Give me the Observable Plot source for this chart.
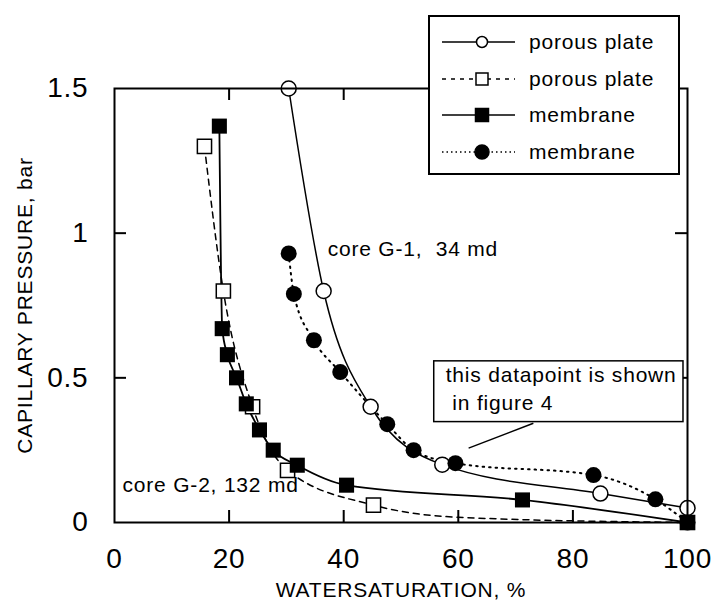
<!DOCTYPE html>
<html><head><meta charset="utf-8">
<script src="https://cdn.jsdelivr.net/npm/d3@7"></script>
<script src="https://cdn.jsdelivr.net/npm/@observablehq/plot@0.6"></script>
<style>
body{margin:0;background:#fff}
#wrap{position:relative;width:720px;height:604px;overflow:hidden}
#legend{position:absolute;left:428px;top:15px}
svg text{letter-spacing:0.8px}
</style>
</head><body><div id="wrap"></div>
<script>
// ---- data ----
const xTicks = [0, 20, 40, 60, 80, 100];
const xTickLabels = ["0", "20", "40", "60", "80", "100"];
const yTicks = [0, 0.5, 1, 1.5];
const yTickLabels = ["0", "0.5", "1", "1.5"];
const xInnerTicks = [20, 40, 60, 80];
const yInnerTicks = [0.5, 1];
const xTitle = "WATERSATURATION, %";
const yTitle = "CAPILLARY PRESSURE, bar";

// core G-1, porous plate (open circles, solid)
const g1PorousX = [30.4, 36.5, 44.7, 57.2, 84.8, 100];
const g1PorousY = [1.5, 0.8, 0.4, 0.2, 0.1, 0.05];
// core G-1, membrane (filled circles, dotted)
const g1MembraneX = [30.4, 31.3, 34.8, 39.4, 47.6, 52.2, 59.5, 83.6, 94.4, 100];
const g1MembraneY = [0.93, 0.79, 0.63, 0.52, 0.34, 0.25, 0.205, 0.164, 0.08, 0];
// core G-2, porous plate (open squares, dashed)
const g2PorousX = [15.7, 19.0, 24.1, 30.2, 45.2, 100];
const g2PorousY = [1.3, 0.8, 0.4, 0.18, 0.06, 0];
// dashed curve path (includes an unmarked bend)
const g2PorousCurveX = [15.7, 19.0, 24.1, 30.2, 45.2, 60, 100];
const g2PorousCurveY = [1.3, 0.8, 0.4, 0.18, 0.06, 0.018, 0];
// core G-2, membrane (filled squares, solid)
const g2MembraneX = [18.3, 18.8, 19.7, 21.3, 23.0, 25.3, 27.7, 31.9, 40.5, 71.2, 100];
const g2MembraneY = [1.37, 0.67, 0.58, 0.50, 0.41, 0.32, 0.25, 0.198, 0.129, 0.078, 0];

const legendLabels = ["porous plate", "porous plate", "membrane", "membrane"];

const noteLabels = [
  {x: 37.2, y: 0.922, text: "core G-1,  34 md"},
  {x: 1.4, y: 0.105, text: "core G-2, 132 md"}
];
const noteBox = [{x1: 55.8, x2: 99.3, y1: 0.347, y2: 0.557}];
const noteBoxText = [{x: 57.8, y: 0.388, text: "this datapoint is shown\n\u00a0in figure 4"}];
const noteLeader = [{x1: 61.8, y1: 0.257, x2: 73.1, y2: 0.343}];

// ---- build tables ----
const rows = (xs, ys) => xs.map((x, i) => ({x, y: ys[i]}));
const g1P = rows(g1PorousX, g1PorousY);
const g1M = rows(g1MembraneX, g1MembraneY);
const g2P = rows(g2PorousX, g2PorousY);
const g2PC = rows(g2PorousCurveX, g2PorousCurveY);
const g2M = rows(g2MembraneX, g2MembraneY);

const FONT = "'Liberation Sans', Arial, Helvetica, sans-serif";
const curve = "monotone-x";
const W = 720, H = 604, ML = 114, MR = 33, MT = 88, MB = 82;
const XD = [0, 100], YD = [0, 1.5];
const FW = W - ML - MR, FH = H - MT - MB, TK = 12;
// tick length (12 px) expressed in each scale's units
const tkX = TK * (XD[1] - XD[0]) / FW;
const tkY = TK * (YD[1] - YD[0]) / FH;

const chart = Plot.plot({
  width: W, height: H,
  marginLeft: ML, marginRight: MR, marginTop: MT, marginBottom: MB,
  style: {fontFamily: FONT, color: "#000", background: "#fff", overflow: "visible"},
  x: {domain: XD, axis: null},
  y: {domain: YD, axis: null},
  marks: [
    // curves
    Plot.line(g2PC, {x: "x", y: "y", curve, stroke: "#000", strokeWidth: 1.5, strokeDasharray: "6,5"}),
    Plot.line(g2M, {x: "x", y: "y", curve, stroke: "#000", strokeWidth: 1.8}),
    Plot.line(g1P, {x: "x", y: "y", curve, stroke: "#000", strokeWidth: 1.5}),
    Plot.line(g1M, {x: "x", y: "y", curve, stroke: "#000", strokeWidth: 2, strokeDasharray: "1.5,5", strokeLinecap: "round"}),
    // markers
    Plot.dot(g2P, {x: "x", y: "y", symbol: "square", r: 8, fill: "#fff", stroke: "#000", strokeWidth: 1.5}),
    Plot.dot(g2M, {x: "x", y: "y", symbol: "square", r: 8.5, fill: "#000", stroke: "none"}),
    Plot.dot(g1P, {x: "x", y: "y", r: 7.5, fill: "#fff", stroke: "#000", strokeWidth: 1.5}),
    Plot.dot(g1M, {x: "x", y: "y", r: 8, fill: "#000", stroke: "none"}),
    // frame and inward ticks
    Plot.frame({stroke: "#000", strokeWidth: 2}),
    Plot.ruleX(xInnerTicks, {x: d => d, y1: YD[0], y2: YD[0] + tkY, stroke: "#000", strokeWidth: 2}),
    Plot.ruleX(xInnerTicks, {x: d => d, y1: YD[1] - tkY, y2: YD[1], stroke: "#000", strokeWidth: 2}),
    Plot.ruleY(yInnerTicks, {y: d => d, x1: XD[0], x2: XD[0] + tkX, stroke: "#000", strokeWidth: 2}),
    Plot.ruleY(yInnerTicks, {y: d => d, x1: XD[1] - tkX, x2: XD[1], stroke: "#000", strokeWidth: 2}),
    // tick labels
    Plot.axisX(xTicks, {anchor: "bottom", tickSize: 0, tickPadding: 26, fontSize: 28, tickFormat: (d, i) => xTickLabels[i], label: null}),
    Plot.axisY(yTicks, {anchor: "left", tickSize: 0, tickPadding: 26, fontSize: 28, tickFormat: (d, i) => yTickLabels[i], label: null}),
    // axis titles
    Plot.text([xTitle], {frameAnchor: "bottom", dy: 68, fontSize: 21, textAnchor: "middle", lineAnchor: "middle", fill: "#000"}),
    Plot.text([yTitle], {frameAnchor: "left", dx: -89, rotate: -90, fontSize: 21, textAnchor: "middle", lineAnchor: "middle", fill: "#000"}),
    // annotations
    Plot.text(noteLabels, {x: "x", y: "y", text: "text", textAnchor: "start", lineAnchor: "bottom", fontSize: 21, fill: "#000"}),
    Plot.link(noteLeader, {x1: "x1", y1: "y1", x2: "x2", y2: "y2", stroke: "#000", strokeWidth: 1.5}),
    Plot.rect(noteBox, {x1: "x1", x2: "x2", y1: "y1", y2: "y2", fill: "#fff", stroke: "#000", strokeWidth: 1.5}),
    Plot.text(noteBoxText, {x: "x", y: "y", text: "text", textAnchor: "start", lineAnchor: "bottom", lineHeight: 28 / 21, fontSize: 21, fill: "#000"})
  ]
});

const wrap = document.getElementById("wrap");
wrap.appendChild(chart);

// ---- legend (overlay box) ----
const LW = 253, LH = 161;
const leg = d3.create("svg").attr("id", "legend").attr("width", LW).attr("height", LH)
  .style("font-family", FONT).style("overflow", "visible");
leg.append("rect").attr("x", 1).attr("y", 1).attr("width", LW - 3).attr("height", LH - 3)
  .attr("fill", "#fff").attr("stroke", "#000").attr("stroke-width", 2);
const rowY = [27, 64, 100, 137];
const styles = [
  {dash: null, sym: "circle", fill: "#fff", r: 5.5},
  {dash: "4,5", sym: "square", fill: "#fff", r: 6},
  {dash: null, sym: "square", fill: "#000", r: 6.5},
  {dash: "1.5,3", sym: "circle", fill: "#000", r: 7}
];
legendLabels.forEach((label, i) => {
  const y = rowY[i], s = styles[i];
  leg.append("line").attr("x1", 14).attr("x2", 87).attr("y1", y).attr("y2", y)
    .attr("stroke", "#000").attr("stroke-width", 1.5).attr("stroke-dasharray", s.dash);
  if (s.sym === "circle") {
    leg.append("circle").attr("cx", 54).attr("cy", y).attr("r", s.r)
      .attr("fill", s.fill).attr("stroke", "#000").attr("stroke-width", 1.5);
  } else {
    leg.append("rect").attr("x", 54 - s.r).attr("y", y - s.r).attr("width", 2 * s.r).attr("height", 2 * s.r)
      .attr("fill", s.fill).attr("stroke", "#000").attr("stroke-width", 1.5);
  }
  leg.append("text").attr("x", 101).attr("y", y).attr("dy", "0.35em")
    .attr("font-size", 21).attr("fill", "#000").text(label);
});
wrap.appendChild(leg.node());
</script></body></html>
